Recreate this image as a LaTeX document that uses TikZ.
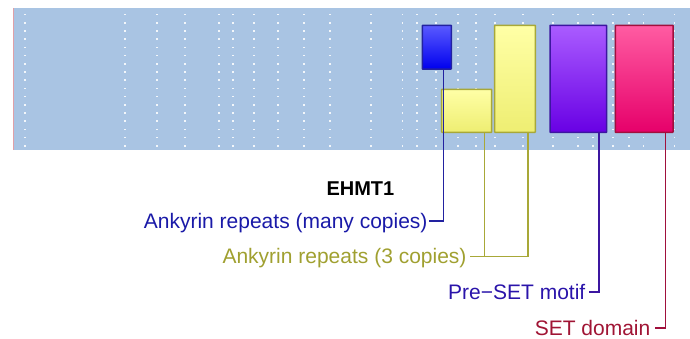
\documentclass[tikz,border=0pt]{standalone}
\usepackage{fontspec}
\setmainfont{Liberation Sans}
\definecolor{band}{HTML}{A9C4E3}
\definecolor{edgeline}{HTML}{E0A0A8}
\definecolor{bTop}{HTML}{5A5AFF}\definecolor{bBot}{HTML}{0000EE}\definecolor{bDraw}{HTML}{2222A0}
\definecolor{yTop}{HTML}{FFFFA6}\definecolor{yBot}{HTML}{EEEE72}\definecolor{yDraw}{HTML}{A8A838}
\definecolor{pTop}{HTML}{AA5CFF}\definecolor{pBot}{HTML}{6800E4}\definecolor{pDraw}{HTML}{3C16A0}
\definecolor{rTop}{HTML}{FF5CA2}\definecolor{rBot}{HTML}{E6006A}\definecolor{rDraw}{HTML}{A0103C}
\definecolor{tBlue}{HTML}{1A1AA8}\definecolor{tOlive}{HTML}{A0A030}
\definecolor{tPurple}{HTML}{2A14AA}\definecolor{tRed}{HTML}{A01434}
\begin{document}
\begin{tikzpicture}[x=1pt,y=-1pt,
  dom/.style={inner sep=0pt, line width=1.5pt, rounded corners=0.5pt},
  conn/.style={line width=1.5pt},
  lbl/.style={inner sep=0pt, anchor=base east, font=\fontsize{21}{25}\selectfont},
  dotmark/.style={fill=white, opacity=0.85}]
\useasboundingbox (0,0) rectangle (690,339);
% band
\fill[band] (13,8) rectangle (690,150.5);
\draw[edgeline, line width=0.8pt] (13.4,8) -- (13.4,150.5);
% dotted columns
\foreach \cx in {25,124.7,157,185,219,232.7,254,278,304,330,371,402.3,416.7,436,457.7,476,495,522.7,552.7,578,592.7,613,629,643.3,674.6}{
  \foreach \k in {0,...,16}{
    \fill[dotmark] ({\cx-0.8},{14.7+8.2*\k-0.8}) rectangle ({\cx+0.8},{14.7+8.2*\k+0.8});
  }
}
% domains
\node[dom, draw=bDraw, top color=bTop, bottom color=bBot, minimum width=29pt, minimum height=43.7pt] (blue) at (436.8,47.2) {};
\node[dom, draw=yDraw, top color=yTop, bottom color=yBot, minimum width=50pt, minimum height=43pt] (ylow) at (466.7,110.8) {};
\node[dom, draw=yDraw, top color=yTop, bottom color=yBot, minimum width=40.6pt, minimum height=107pt] (ytall) at (515,78.8) {};
\node[dom, draw=pDraw, top color=pTop, bottom color=pBot, minimum width=56.7pt, minimum height=107pt] (purple) at (578.35,78.8) {};
\node[dom, draw=rDraw, top color=rTop, bottom color=rBot, minimum width=57.7pt, minimum height=107pt] (pink) at (644.15,78.8) {};
% labels
\node[lbl, font=\fontsize{20}{24}\selectfont\bfseries] (title) at (394.5,195) {EHMT1};
\node[lbl, text=tBlue] (l1) at (427.7,228.5) {Ankyrin repeats (many copies)};
\node[lbl, text=tOlive] (l2) at (466.7,263.8) {Ankyrin repeats (3 copies)};
\node[lbl, text=tPurple] (l3) at (585.5,299.5) {Pre−SET motif};
\node[lbl, text=tRed] (l4) at (650.5,335.5) {SET domain};
% connector coordinates
\coordinate (c1) at (443.7,221);
\coordinate (e1) at (429.2,221);
\coordinate (c2a) at (484.5,256.3);
\coordinate (c2b) at (528,256.3);
\coordinate (e2) at (470,256.3);
\coordinate (c3) at (599,292);
\coordinate (e3) at (589,292);
\coordinate (c4) at (665.7,328);
\coordinate (e4) at (655,328);
% connectors
\draw[conn, draw=bDraw] (blue.south -| c1) -- (c1) -- (e1);
\draw[conn, draw=yDraw] (ylow.south -| c2a) -- (c2a) -- (e2);
\draw[conn, draw=yDraw] (ytall.south -| c2b) -- (c2b) -- (c2a);
\draw[conn, draw=pDraw] (purple.south -| c3) -- (c3) -- (e3);
\draw[conn, draw=rDraw] (pink.south -| c4) -- (c4) -- (e4);
\end{tikzpicture}
\end{document}
